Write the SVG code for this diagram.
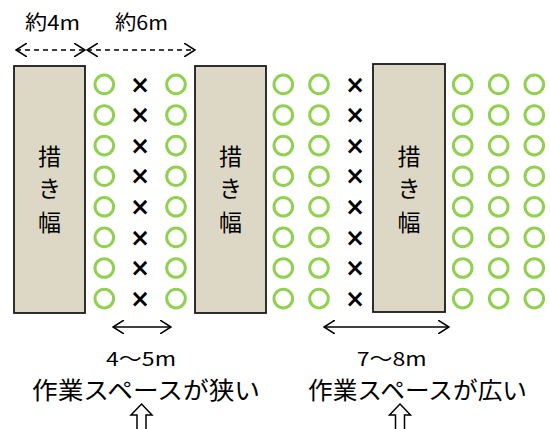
<svg xmlns="http://www.w3.org/2000/svg" width="550" height="429" viewBox="0 0 550 429">
<style>
.band{fill:#ddd8c5;stroke:#1a1a1a;stroke-width:1.8}
.band-t{font-family:"Noto Sans CJK JP","Noto Sans",sans-serif;font-size:23px;fill:#000;text-anchor:middle}
.lbl{font-family:"Noto Sans CJK JP","Noto Sans",sans-serif;font-size:20px;fill:#000;text-anchor:middle}
.sm{font-family:"Noto Sans CJK JP","Noto Sans",sans-serif;font-size:19px;fill:#000;text-anchor:middle}
.big{font-family:"Noto Sans CJK JP","Noto Sans",sans-serif;font-size:24px;fill:#000;text-anchor:middle}
.o{fill:none;stroke:#92d050;stroke-width:3}
.x{font-family:"DejaVu Sans",sans-serif;font-weight:bold;font-size:24px;fill:#000;text-anchor:middle}
.dim{fill:none;stroke:#000;stroke-width:1.3}
.dash{fill:none;stroke:#000;stroke-width:1.3;stroke-dasharray:5 4}
.up{fill:#fff;stroke:#000;stroke-width:1.5}
</style>
<defs>
<marker id="ah" viewBox="0 0 12 14" refX="11" refY="7" markerWidth="12" markerHeight="14" markerUnits="userSpaceOnUse" orient="auto-start-reverse">
<path d="M0,0 L11,7 L0,14" fill="none" stroke="#000" stroke-width="1.5"/>
</marker>
<circle id="c" r="9.3" class="o"/>
</defs>

<g id="labels-top">
<text class="lbl" x="52.5" y="29.5" textLength="55" lengthAdjust="spacingAndGlyphs">約4m</text>
<text class="lbl" x="141.5" y="29.5" textLength="53" lengthAdjust="spacingAndGlyphs">約6m</text>
</g>

<g id="connectors">
<line class="dash" x1="16" y1="50" x2="85" y2="50" marker-start="url(#ah)" marker-end="url(#ah)"/>
<line class="dash" x1="87" y1="50" x2="195" y2="50" marker-start="url(#ah)" marker-end="url(#ah)"/>
<line class="dim" x1="113" y1="327" x2="171" y2="327" marker-start="url(#ah)" marker-end="url(#ah)"/>
<line class="dim" x1="324" y1="327" x2="449" y2="327" marker-start="url(#ah)" marker-end="url(#ah)"/>
</g>

<g id="band1">
<rect class="band" x="14" y="66" width="71" height="247"/>
<text class="band-t" x="49.5" y="165">措</text>
<text class="band-t" x="49.5" y="197">き</text>
<text class="band-t" x="49.5" y="231">幅</text>
</g>
<g id="band2">
<rect class="band" x="195" y="66" width="71" height="247"/>
<text class="band-t" x="230.5" y="165">措</text>
<text class="band-t" x="230.5" y="197">き</text>
<text class="band-t" x="230.5" y="231">幅</text>
</g>
<g id="band3">
<rect class="band" x="373" y="64" width="72" height="248"/>
<text class="band-t" x="409" y="165">措</text>
<text class="band-t" x="409" y="197">き</text>
<text class="band-t" x="409" y="231">幅</text>
</g>

<g id="plants">
<g id="row-c">
<use href="#c" x="104.3" y="84.4"/><use href="#c" x="104.3" y="115"/><use href="#c" x="104.3" y="145.6"/><use href="#c" x="104.3" y="176.2"/><use href="#c" x="104.3" y="206.8"/><use href="#c" x="104.3" y="237.4"/><use href="#c" x="104.3" y="268"/><use href="#c" x="104.3" y="298.6"/>
<use href="#c" x="176" y="84.4"/><use href="#c" x="176" y="115"/><use href="#c" x="176" y="145.6"/><use href="#c" x="176" y="176.2"/><use href="#c" x="176" y="206.8"/><use href="#c" x="176" y="237.4"/><use href="#c" x="176" y="268"/><use href="#c" x="176" y="298.6"/>
<use href="#c" x="283.3" y="84.4"/><use href="#c" x="283.3" y="115"/><use href="#c" x="283.3" y="145.6"/><use href="#c" x="283.3" y="176.2"/><use href="#c" x="283.3" y="206.8"/><use href="#c" x="283.3" y="237.4"/><use href="#c" x="283.3" y="268"/><use href="#c" x="283.3" y="298.6"/>
<use href="#c" x="319" y="84.4"/><use href="#c" x="319" y="115"/><use href="#c" x="319" y="145.6"/><use href="#c" x="319" y="176.2"/><use href="#c" x="319" y="206.8"/><use href="#c" x="319" y="237.4"/><use href="#c" x="319" y="268"/><use href="#c" x="319" y="298.6"/>
<use href="#c" x="462.7" y="84.4"/><use href="#c" x="462.7" y="115"/><use href="#c" x="462.7" y="145.6"/><use href="#c" x="462.7" y="176.2"/><use href="#c" x="462.7" y="206.8"/><use href="#c" x="462.7" y="237.4"/><use href="#c" x="462.7" y="268"/><use href="#c" x="462.7" y="298.6"/>
<use href="#c" x="498.7" y="84.4"/><use href="#c" x="498.7" y="115"/><use href="#c" x="498.7" y="145.6"/><use href="#c" x="498.7" y="176.2"/><use href="#c" x="498.7" y="206.8"/><use href="#c" x="498.7" y="237.4"/><use href="#c" x="498.7" y="268"/><use href="#c" x="498.7" y="298.6"/>
<use href="#c" x="534.3" y="84.4"/><use href="#c" x="534.3" y="115"/><use href="#c" x="534.3" y="145.6"/><use href="#c" x="534.3" y="176.2"/><use href="#c" x="534.3" y="206.8"/><use href="#c" x="534.3" y="237.4"/><use href="#c" x="534.3" y="268"/><use href="#c" x="534.3" y="298.6"/>
</g>
<g id="row-x">
<text class="x" x="140" y="92.5">×</text><text class="x" x="140" y="123.1">×</text><text class="x" x="140" y="153.7">×</text><text class="x" x="140" y="184.3">×</text><text class="x" x="140" y="214.9">×</text><text class="x" x="140" y="245.5">×</text><text class="x" x="140" y="276.1">×</text><text class="x" x="140" y="306.7">×</text>
<text class="x" x="355" y="92.5">×</text><text class="x" x="355" y="123.1">×</text><text class="x" x="355" y="153.7">×</text><text class="x" x="355" y="184.3">×</text><text class="x" x="355" y="214.9">×</text><text class="x" x="355" y="245.5">×</text><text class="x" x="355" y="276.1">×</text><text class="x" x="355" y="306.7">×</text>
</g>
</g>

<g id="note-narrow">
<text class="sm" x="141" y="366" textLength="70" lengthAdjust="spacingAndGlyphs">4～5m</text>
<text class="big" x="146" y="398.5" textLength="228" lengthAdjust="spacingAndGlyphs">作業スペースが狭い</text>
<path class="up" d="M141.5,404 L152,415 L146,415 L146,430 L137,430 L137,415 L131,415 Z"/>
</g>
<g id="note-wide">
<text class="sm" x="391.7" y="366" textLength="70" lengthAdjust="spacingAndGlyphs">7～8m</text>
<text class="big" x="417.5" y="398.5" textLength="219" lengthAdjust="spacingAndGlyphs">作業スペースが広い</text>
<path class="up" d="M400,404 L410.5,415 L404.5,415 L404.5,430 L395.5,430 L395.5,415 L389.5,415 Z"/>
</g>
</svg>
